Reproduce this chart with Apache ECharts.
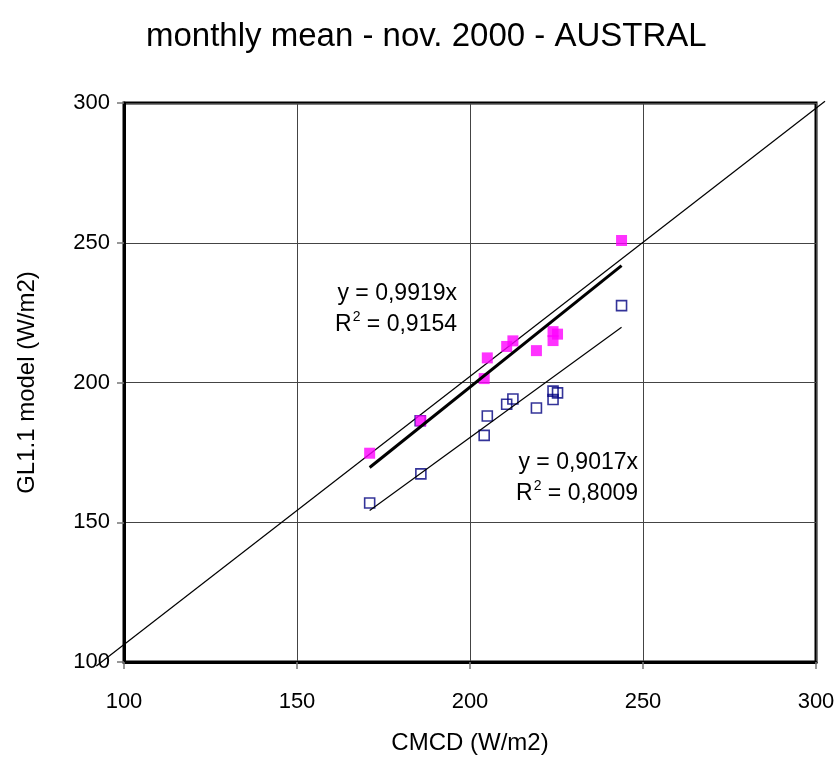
<!DOCTYPE html>
<html>
<head>
    <meta charset="utf-8">
    <title>monthly mean - nov. 2000 - AUSTRAL</title>
    <script src="https://cdn.jsdelivr.net/npm/echarts@6/dist/echarts.min.js"></script>
    <style>
        body { margin: 0; background: #fff; }
    </style>
</head>
<body>
    <div id="main" style="width: 840px;height:760px;"></div>
    <script>
        var font = '"Liberation Sans", Arial, sans-serif';

        // CMCD values (x) shared by both series
        var cmcd = [171.0, 185.8, 204.1, 205.0, 210.6, 212.4, 219.2, 224.0, 225.3, 224.0, 243.8];
        // GL1.1 model, magenta filled squares
        var glMagenta = [174.7, 186.3, 201.4, 208.8, 212.9, 214.9, 211.4, 218.2, 217.3, 215.0, 250.8];
        // GL1.1 model, blue open squares
        var glBlue = [156.9, 167.3, 181.1, 188.0, 192.2, 194.1, 190.9, 196.9, 196.3, 193.9, 227.5];
        // extra open square hidden under the magenta one at ~186
        var blueExtra = [[185.6, 186.3]];

        // trend lines (y = 0,9919x and y = 0,9017x) over the data range
        var trendMagenta = [[171.0, 169.6], [243.8, 241.8]];
        var trendBlue = [[171.0, 154.2], [243.8, 219.8]];
        // reference diagonal, drawn past the plot frame
        var diagonal = [[92.0, 98.6], [302.6, 300.6]];

        var axisTicks = [100, 150, 200, 250, 300];

        function pairs(xs, ys) {
            return xs.map(function (x, i) { return [x, ys[i]]; });
        }

        var myChart = echarts.init(document.getElementById('main'));

        var axisCommon = {
            type: 'value',
            min: axisTicks[0],
            max: axisTicks[axisTicks.length - 1],
            interval: 50,
            nameLocation: 'middle',
            nameTextStyle: { fontSize: 24, color: '#000', fontFamily: font },
            axisLine: { show: true, lineStyle: { color: '#000', width: 3 } },
            axisTick: { show: true, inside: false, length: 7, lineStyle: { color: '#777', width: 1.5 } },
            splitLine: { show: true, lineStyle: { color: '#444', width: 1 } },
            axisLabel: { fontSize: 22, color: '#000', fontFamily: font }
        };

        var supRich = {
            a: { fontSize: 23, fontFamily: font, color: '#000' },
            s: { fontSize: 14, fontFamily: font, color: '#000', padding: [0, 0, 16, 1] }
        };

        var option = {
            animation: false,
            backgroundColor: '#fff',
            title: {
                text: 'monthly mean - nov. 2000 - AUSTRAL',
                left: 141,
                top: 15,
                textStyle: { fontSize: 33, fontWeight: 'normal', color: '#000', fontFamily: font }
            },
            grid: {
                left: 124,
                top: 103,
                right: 24,
                bottom: 94,
                show: true,
                borderColor: '#000',
                borderWidth: 3
            },
            xAxis: echarts.util.merge({
                name: 'CMCD (W/m2)',
                nameGap: 69,
                axisLabel: { margin: 29 }
            }, axisCommon),
            yAxis: echarts.util.merge({
                name: 'GL1.1 model (W/m2)',
                nameGap: 85,
                axisLabel: { margin: 14 }
            }, axisCommon),
            graphic: [
                {
                    type: 'text', right: 840 - 457, top: 282,
                    style: { text: 'y = 0,9919x', font: '23px ' + font, fill: '#000' }
                },
                {
                    type: 'text', right: 840 - 457, top: 310,
                    style: { text: '{a|R}{s|2}{a| = 0,9154}', fill: '#000', rich: supRich }
                },
                {
                    type: 'text', right: 840 - 638, top: 451,
                    style: { text: 'y = 0,9017x', font: '23px ' + font, fill: '#000' }
                },
                {
                    type: 'text', right: 840 - 638, top: 479,
                    style: { text: '{a|R}{s|2}{a| = 0,8009}', fill: '#000', rich: supRich }
                }
            ],
            series: [
                {
                    name: 'diagonal',
                    type: 'custom',
                    clip: false,
                    silent: true,
                    data: [diagonal[0].concat(diagonal[1])],
                    renderItem: function (params, api) {
                        var p0 = api.coord([api.value(0), api.value(1)]);
                        var p1 = api.coord([api.value(2), api.value(3)]);
                        return {
                            type: 'line',
                            shape: { x1: p0[0], y1: p0[1], x2: p1[0], y2: p1[1] },
                            style: { stroke: '#000', lineWidth: 1.2 }
                        };
                    }
                },
                {
                    name: 'trend magenta',
                    type: 'line',
                    data: trendMagenta,
                    symbol: 'none',
                    lineStyle: { color: '#000', width: 3 }
                },
                {
                    name: 'trend blue',
                    type: 'line',
                    data: trendBlue,
                    symbol: 'none',
                    lineStyle: { color: '#000', width: 1.2 }
                },
                {
                    name: 'blue',
                    type: 'scatter',
                    symbol: 'rect',
                    symbolSize: 10,
                    data: blueExtra.concat(pairs(cmcd, glBlue)),
                    itemStyle: { color: 'rgba(0,0,0,0)', borderColor: '#000080', borderWidth: 1.6 }
                },
                {
                    name: 'magenta',
                    type: 'scatter',
                    symbol: 'rect',
                    symbolSize: 11,
                    data: pairs(cmcd, glMagenta),
                    itemStyle: { color: '#ff00ff' }
                }
            ]
        };

        myChart.setOption(option);
    </script>
</body>
</html>
